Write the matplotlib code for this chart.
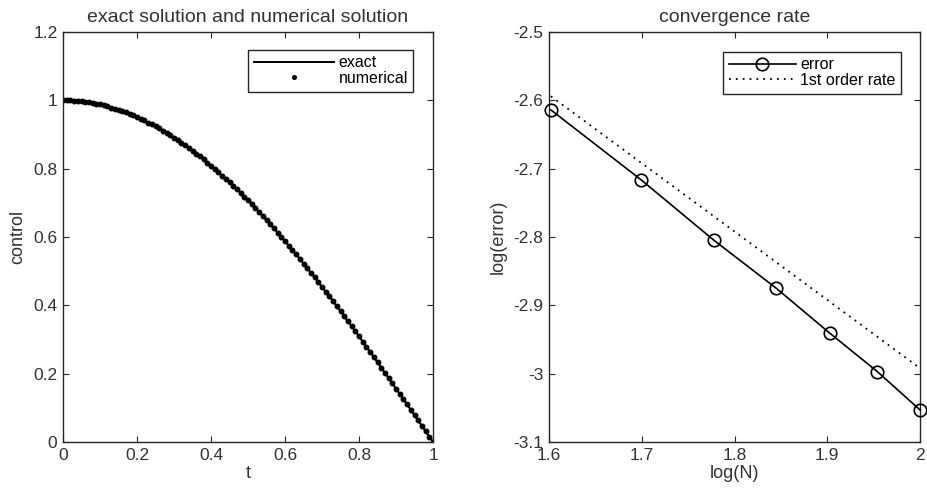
import numpy as np
import matplotlib
matplotlib.use("Agg")
import matplotlib.pyplot as plt

plt.rcParams['font.family'] = ['Liberation Sans', 'DejaVu Sans']

# ---- left panel data: control vs t (101 samples, step 0.01) ----
t = np.linspace(0, 1, 101)
control = [1.000, 1.000, 1.000, 0.999, 0.998, 0.997, 0.996, 0.994, 0.992, 0.990,
           0.988, 0.985, 0.982, 0.979, 0.976, 0.972, 0.969, 0.965, 0.960, 0.956,
           0.951, 0.946, 0.941, 0.935, 0.930, 0.924, 0.918, 0.911, 0.905, 0.898,
           0.891, 0.884, 0.876, 0.869, 0.861, 0.853, 0.844, 0.836, 0.827, 0.818,
           0.809, 0.800, 0.790, 0.780, 0.771, 0.760, 0.750, 0.740, 0.729, 0.718,
           0.707, 0.696, 0.685, 0.673, 0.661, 0.649, 0.637, 0.625, 0.613, 0.600,
           0.588, 0.575, 0.562, 0.549, 0.536, 0.522, 0.509, 0.495, 0.482, 0.468,
           0.454, 0.440, 0.426, 0.412, 0.397, 0.383, 0.368, 0.353, 0.339, 0.324,
           0.309, 0.294, 0.279, 0.264, 0.249, 0.233, 0.218, 0.203, 0.187, 0.172,
           0.156, 0.141, 0.125, 0.110, 0.094, 0.078, 0.063, 0.047, 0.031, 0.016,
           0.000]
left_xticks = [0, 0.2, 0.4, 0.6, 0.8, 1]
left_xticklabels = ["0", "0.2", "0.4", "0.6", "0.8", "1"]
left_yticks = [0, 0.2, 0.4, 0.6, 0.8, 1, 1.2]
left_yticklabels = ["0", "0.2", "0.4", "0.6", "0.8", "1", "1.2"]

# ---- right panel data: convergence ----
logN = [1.602, 1.699, 1.778, 1.845, 1.903, 1.954, 2.000]
log_error = [-2.614, -2.716, -2.805, -2.875, -2.941, -2.997, -3.053]
rate_line = [-2.594, -2.691, -2.770, -2.837, -2.895, -2.946, -2.992]
right_xticks = [1.6, 1.7, 1.8, 1.9, 2.0]
right_xticklabels = ["1.6", "1.7", "1.8", "1.9", "2"]
right_yticks = [-3.1, -3.0, -2.9, -2.8, -2.7, -2.6, -2.5]
right_yticklabels = ["-3.1", "-3", "-2.9", "-2.8", "-2.7", "-2.6", "-2.5"]

W, H = 927, 495
fig = plt.figure(figsize=(W / 100, H / 100), dpi=100)

axc = '#262626'
txtc = '#333333'
tick_fs = 12.5
title_fs = 14
label_fs = 13
leg_fs = 11.5


def style(ax):
    for s in ax.spines.values():
        s.set_color(axc)
        s.set_linewidth(1.0)
    ax.tick_params(direction='in', length=4, width=0.8, color=axc,
                   labelsize=tick_fs, labelcolor=txtc,
                   top=True, right=True, pad=4)


ax1 = fig.add_axes([63 / W, 1 - 442 / H, (433 - 63) / W, (442 - 32) / H])
ax1.plot(t, control, '-', color='black', lw=1.4, label='exact')
ax1.plot(t, control, '.', color='black', ms=6.5, label='numerical')
ax1.set_xlim(0, 1)
ax1.set_ylim(0, 1.2)
ax1.set_xticks(left_xticks)
ax1.set_xticklabels(left_xticklabels)
ax1.set_yticks(left_yticks)
ax1.set_yticklabels(left_yticklabels)
ax1.set_xlabel('t', fontsize=label_fs, color=txtc, labelpad=2)
ax1.set_ylabel('control', fontsize=label_fs, color=txtc, labelpad=5)
ax1.set_title('exact solution and numerical solution', fontsize=title_fs,
              color=txtc, pad=7)
style(ax1)
leg1 = ax1.legend(loc='upper right', bbox_to_anchor=(0.947, 0.957),
                  fontsize=leg_fs, fancybox=False, framealpha=1,
                  edgecolor=axc, handlelength=5.0, borderpad=0.35,
                  labelspacing=0.05, handletextpad=0.3, borderaxespad=0,
                  markerscale=0.8)
leg1.get_frame().set_linewidth(1.0)

ax2 = fig.add_axes([549 / W, 1 - 442 / H, (920 - 549) / W, (442 - 32) / H])
ax2.plot(logN, log_error, '-o', color='black', lw=1.2, ms=9, mfc='none',
         mew=1.2, label='error', clip_on=False, zorder=3)
ax2.plot(logN, rate_line, linestyle=(0, (1, 2.8)), color='black', lw=1.3,
         label='1st order rate')
ax2.set_xlim(1.6, 2.0)
ax2.set_ylim(-3.1, -2.5)
ax2.set_xticks(right_xticks)
ax2.set_xticklabels(right_xticklabels)
ax2.set_yticks(right_yticks)
ax2.set_yticklabels(right_yticklabels)
ax2.set_xlabel('log(N)', fontsize=label_fs, color=txtc, labelpad=2)
ax2.set_ylabel('log(error)', fontsize=label_fs, color=txtc, labelpad=5)
ax2.set_title('convergence rate', fontsize=title_fs, color=txtc, pad=7)
style(ax2)
leg2 = ax2.legend(loc='upper right', bbox_to_anchor=(0.95, 0.952),
                  fontsize=leg_fs, fancybox=False, framealpha=1,
                  edgecolor=axc, handlelength=4.2, borderpad=0.35,
                  labelspacing=0.05, handletextpad=0.3, borderaxespad=0)
leg2.get_frame().set_linewidth(1.0)

fig.savefig('out.png', dpi=100)
